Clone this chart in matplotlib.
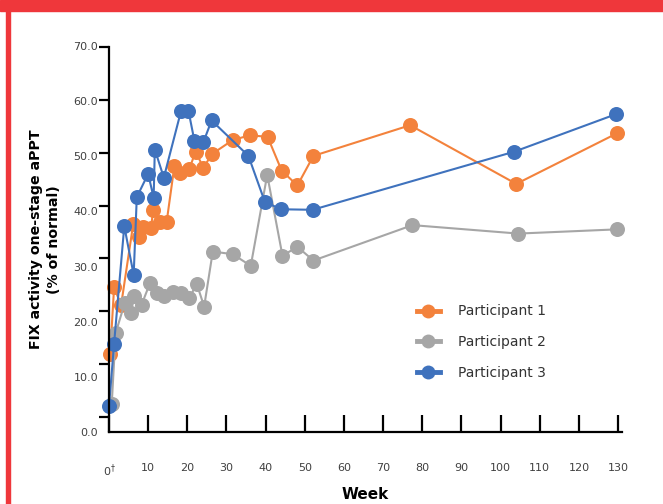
import numpy as np
import matplotlib
matplotlib.use("Agg")
import matplotlib.pyplot as plt
from matplotlib.patches import Rectangle
from matplotlib.transforms import ScaledTranslation

# weeks / FIX activity (% of normal)
p1_weeks = [0.3, 1.3, 3.1, 6.2, 7.7, 8.8, 10.7, 11.3, 13.0, 14.7, 16.7, 18.2, 20.5, 22.1, 24.1, 26.4,
            31.6, 36.0, 40.5, 44.1, 48.1, 52.2, 76.9, 104.0, 129.8]
p1_fix = [12.0, 24.5, 21.2, 36.6, 34.1, 36.0, 35.7, 39.2, 36.8, 36.8, 47.5, 46.2, 46.9, 50.2, 47.2, 49.8,
          52.4, 53.3, 53.0, 46.6, 43.8, 49.4, 55.2, 44.1, 53.7]

p2_weeks = [0.7, 1.7, 4.0, 5.5, 6.5, 8.3, 10.5, 12.2, 14.0, 16.3, 18.3, 20.5, 22.4, 24.3, 26.5,
            31.6, 36.2, 40.4, 44.3, 48.1, 52.2, 77.5, 104.5, 129.8]
p2_fix = [2.5, 15.9, 21.5, 19.6, 22.8, 21.2, 25.4, 23.4, 22.8, 23.7, 23.4, 22.5, 25.2, 20.9, 31.3,
          30.8, 28.6, 45.8, 30.5, 32.2, 29.6, 36.3, 34.7, 35.5]

p3_weeks = [0.0, 1.3, 3.9, 6.3, 7.1, 10.0, 11.4, 11.7, 14.0, 18.4, 20.3, 21.8, 24.1, 26.2,
            35.6, 39.8, 43.9, 52.0, 103.5, 129.5]
p3_fix = [2.0, 13.9, 36.1, 26.9, 41.6, 46.0, 41.5, 50.6, 45.3, 57.9, 57.9, 52.3, 52.0, 56.1,
          49.4, 40.7, 39.3, 39.2, 50.2, 57.3]

labels = ["Participant 1", "Participant 2", "Participant 3"]
colors = ["#F3823C", "#A6A6A6", "#3F72BD"]

x_ticks = list(range(0, 140, 10))
x_ticklabels = ["0$^{\\dagger}$"] + [str(t) for t in x_ticks[1:]]
y_ticks = list(range(0, 80, 10))

W, H = 663, 504
fig = plt.figure(figsize=(W / 100, H / 100), dpi=100)

# red frame of the slide
fig.patches.append(Rectangle((0, 1 - 11 / H), 1, 11 / H, transform=fig.transFigure,
                             color="#EF373B", zorder=0))
fig.patches.append(Rectangle((6 / W, 0), 3.5 / W, 1 - 11 / H, transform=fig.transFigure,
                             color="#EF373B", zorder=0))

ax = fig.add_axes([109 / W, 1 - 432 / H, (622 - 109) / W, (432 - 47) / H])

series = [(p1_weeks, p1_fix), (p2_weeks, p2_fix), (p3_weeks, p3_fix)]
for (wk, fx), lab, col in zip(series, labels, colors):
    ax.plot(wk, fx, color=col, lw=1.5, marker="o", markersize=10.8, markeredgewidth=0,
            label=lab, clip_on=False)

ax.set_xlim(0, 131)
ax.set_ylim(-2.84, 70)

for s in ["top", "right"]:
    ax.spines[s].set_visible(False)
for s in ["left", "bottom"]:
    ax.spines[s].set_linewidth(1.6)
    ax.spines[s].set_color("black")

ax.set_xticks(x_ticks)
ax.set_xticklabels(x_ticklabels, fontsize=8, color="#404040")
ax.tick_params(axis="x", direction="in", length=12, width=1.6, pad=22)

# y tick labels sit a little lower than their ticks, more so towards zero
ax.set_yticks(y_ticks)
ax.set_yticklabels([])
ax.tick_params(axis="y", direction="out", length=7, width=1.6)
for v in y_ticks:
    drop = (70 - v) / 70 * 16 / 100
    tr = ax.get_yaxis_transform() + ScaledTranslation(-11 / 100, -drop, fig.dpi_scale_trans)
    ax.text(0, v, f"{v:.1f}", transform=tr, ha="right", va="center",
            fontsize=8, color="#404040")

ax.set_xlabel("Week", fontsize=11, fontweight="bold", labelpad=6)
ax.set_ylabel("FIX activity one-stage aPPT\n(% of normal)", fontsize=10.2,
              fontweight="bold", labelpad=24, linespacing=1.35)

leg = ax.legend(loc="upper left", bbox_to_anchor=((404 - 109) / (622 - 109), 1 - (292 - 47) / (432 - 47)),
                frameon=False, fontsize=10, handlelength=1.7, handletextpad=1.3,
                labelspacing=1.2, labelcolor="#333333")
for ln in leg.get_lines():
    ln.set_linewidth(3.5)
    ln.set_markersize(10)

fig.savefig("out.png", dpi=100)
